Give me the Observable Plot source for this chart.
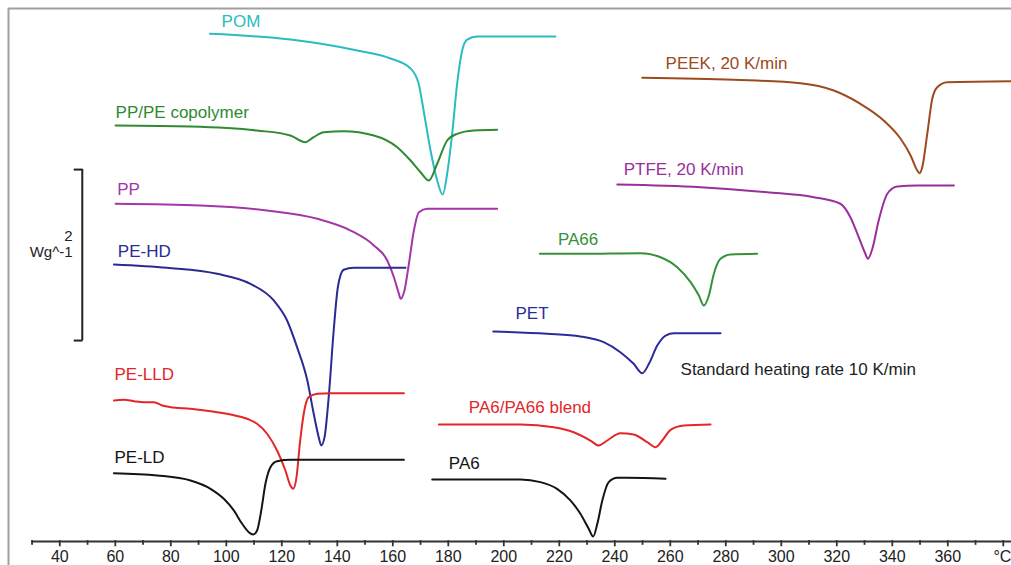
<!DOCTYPE html>
<html>
<head>
<meta charset="utf-8">
<script src="https://cdn.jsdelivr.net/npm/d3@7"></script>
<script src="https://cdn.jsdelivr.net/npm/@observablehq/plot@0.6"></script>
<style>
  html, body { margin: 0; padding: 0; background: #fff; }
  #chart svg { display: block; }
</style>
</head>
<body>
<div id="chart"></div>
<script>
// DSC melting curves: [temperature °C, heat flow W/g (offset)]
const POM = [[94.1,5.938],[123.1,5.871],[147.2,5.743],[159.2,5.649],[166.4,5.532],[169.3,5.357],[171.1,5.041],[173.6,4.573],[176.0,4.222],[178.0,4.058],[179.6,4.304],[181.4,4.772],[183.2,5.357],[185.0,5.743],[186.8,5.871],[190.4,5.906],[218.6,5.906]];
const PP_PE = [[60.1,4.865],[87.1,4.854],[111.1,4.807],[123.1,4.749],[128.5,4.670],[131.5,4.729],[135.1,4.787],[142.3,4.799],[153.2,4.749],[161.6,4.612],[166.4,4.456],[170.0,4.319],[173.0,4.222],[176.0,4.418],[179.6,4.690],[183.2,4.768],[189.2,4.807],[197.6,4.815]];
const PP = [[60.1,3.950],[90.7,3.930],[114.7,3.871],[132.8,3.774],[144.8,3.637],[153.2,3.462],[158.0,3.287],[160.4,3.091],[162.2,2.897],[162.8,2.839],[164.2,2.936],[165.8,3.248],[167.6,3.637],[169.4,3.851],[172.4,3.891],[197.6,3.891]];
const PE_HD = [[59.5,3.240],[78.7,3.201],[96.7,3.131],[108.7,3.014],[117.1,2.819],[121.9,2.585],[125.5,2.273],[129.2,1.883],[131.5,1.494],[133.3,1.220],[134.2,1.123],[135.4,1.220],[136.9,1.688],[138.7,2.468],[140.2,2.974],[142.3,3.178],[145.9,3.201],[164.6,3.201]];
const PE_LLD = [[59.5,1.649],[63.1,1.657],[66.7,1.641],[70.3,1.629],[73.9,1.629],[76.9,1.591],[79.9,1.571],[87.1,1.552],[94.3,1.524],[101.5,1.485],[107.5,1.435],[111.1,1.377],[114.7,1.260],[118.3,1.064],[121.3,0.830],[123.1,0.655],[124.1,0.616],[125.3,0.752],[126.5,1.143],[127.9,1.494],[129.7,1.688],[132.8,1.727],[137.6,1.735],[164.0,1.735]];
const PE_LD = [[59.5,0.799],[75.1,0.772],[87.1,0.713],[94.3,0.616],[99.1,0.499],[102.7,0.363],[105.7,0.207],[108.1,0.109],[109.7,0.082],[111.1,0.129],[112.6,0.363],[114.1,0.675],[115.9,0.869],[118.3,0.939],[123.1,0.956],[164.0,0.956]];
const PA6_PA66 = [[176.6,1.368],[206.0,1.368],[218.0,1.337],[225.2,1.278],[231.2,1.181],[234.2,1.123],[237.3,1.181],[242.0,1.267],[246.8,1.251],[251.7,1.161],[254.7,1.103],[257.1,1.181],[260.1,1.306],[264.9,1.357],[274.5,1.368]];
const PA6 = [[174.2,0.725],[206.0,0.725],[213.2,0.694],[219.2,0.616],[224.0,0.480],[227.6,0.324],[230.6,0.149],[232.2,0.058],[233.7,0.207],[235.5,0.480],[237.8,0.694],[240.9,0.745],[244.5,0.745],[258.3,0.733]];
const PA66 = [[213.0,3.365],[227.6,3.365],[249.3,3.372],[256.5,3.325],[262.5,3.208],[267.3,3.033],[270.3,2.877],[272.1,2.760],[273.9,2.877],[275.7,3.131],[278.1,3.306],[281.7,3.357],[291.3,3.365]];
const PET = [[196.2,2.456],[215.6,2.429],[227.6,2.398],[236.0,2.331],[242.0,2.214],[246.8,2.078],[249.9,1.968],[252.3,2.078],[255.3,2.292],[258.3,2.409],[261.3,2.436],[278.1,2.436]];
const PEEK = [[249.9,5.423],[282.9,5.400],[306.9,5.360],[318.9,5.275],[328.5,5.119],[336.9,4.924],[343.0,4.710],[346.6,4.515],[349.0,4.339],[349.8,4.308],[350.8,4.378],[352.6,4.768],[354.4,5.178],[356.2,5.313],[359.8,5.372],[383.0,5.384]];
const PTFE = [[240.9,4.175],[270.9,4.144],[294.9,4.085],[311.7,4.027],[321.3,3.950],[324.9,3.793],[327.9,3.559],[330.3,3.365],[331.2,3.306],[332.8,3.423],[335.1,3.754],[338.2,4.067],[341.8,4.152],[349.0,4.164],[362.2,4.164]];

// Series names and label anchor points [T, W/g]
const seriesNames = ["POM","PP/PE copolymer","PP","PE-HD","PE-LLD","PE-LD","PA6/PA66 blend","PA6","PA66","PET","PEEK, 20 K/min","PTFE, 20 K/min"];
const seriesData = [POM, PP_PE, PP, PE_HD, PE_LLD, PE_LD, PA6_PA66, PA6, PA66, PET, PEEK, PTFE];
const labelAnchors = [[98.3,6.012],[60.1,4.956],[60.7,4.047],[60.9,3.333],[59.7,1.883],[59.7,0.916],[187.4,1.505],[180.2,0.850],[219.5,3.462],[204.2,2.605],[258.3,5.529],[243.2,4.281]];
const noteText = "Standard heating rate 10 K/min";
const noteAnchor = [263.7, 1.942];

// Axis ticks
const tickValues = d3.range(30, 381, 10);
const tickLabelValues = [40,60,80,100,120,140,160,180,200,220,240,260,280,300,320,340,360];
const tickLabels = ["40","60","80","100","120","140","160","180","200","220","240","260","280","300","320","340","360"];
const unitLabel = "°C";

// Scale bar: 2 W/g
const scaleBar = {value: 2, from: 2.35, label: "2", unit: "Wg^-1"};

const colors = {
  "POM": "#2bbcc0",
  "PP/PE copolymer": "#2f8a31",
  "PP": "#a336a8",
  "PE-HD": "#2a2a92",
  "PE-LLD": "#e2262a",
  "PE-LD": "#141414",
  "PA6/PA66 blend": "#e2262a",
  "PA6": "#141414",
  "PA66": "#36913a",
  "PET": "#2b2b9a",
  "PEEK, 20 K/min": "#9e4a1e",
  "PTFE, 20 K/min": "#9a2e9c"
};

const font = "'Liberation Sans', Arial, Helvetica, sans-serif";
const fs = 17;

const marks = [];
// frame (top & left)
marks.push(Plot.ruleY([6.234], {stroke: "#a0a0a0", strokeWidth: 2}));
marks.push(Plot.ruleX([21.51], {stroke: "#a0a0a0", strokeWidth: 2}));

// curves
seriesData.forEach((data, i) => {
  marks.push(Plot.line(data, {x: d => d[0], y: d => d[1], stroke: colors[seriesNames[i]], strokeWidth: 2, curve: "monotone-x"}));
});

// labels
const labelRows = seriesNames.map((n, i) => ({name: n, x: labelAnchors[i][0], y: labelAnchors[i][1]}));
marks.push(Plot.text(labelRows, {x: "x", y: "y", text: "name", fill: d => colors[d.name], textAnchor: "start", lineAnchor: "bottom", fontSize: fs}));
marks.push(Plot.text([noteText], {x: noteAnchor[0], y: noteAnchor[1], text: d => d, fill: "#1e1e1e", textAnchor: "start", lineAnchor: "bottom", fontSize: fs}));

// x axis
marks.push(Plot.ruleY([0], {x1: 30, x2: 383, stroke: "#333", strokeWidth: 1.8}));
marks.push(Plot.ruleX(tickValues, {x: d => d, y1: 0.01, y2: d => (d % 20 === 0 ? -0.062 : -0.045), stroke: "#333", strokeWidth: 1.8}));
marks.push(Plot.text(tickLabelValues, {x: d => d, y: -0.235, text: (d, i) => tickLabels[i], fill: "#222", textAnchor: "middle", lineAnchor: "bottom", fontSize: 16}));
marks.push(Plot.text([unitLabel], {x: 382.9, y: -0.235, text: d => d, fill: "#222", textAnchor: "end", lineAnchor: "bottom", fontSize: 16}));

// scale bar
const sbTop = scaleBar.from + scaleBar.value;
marks.push(Plot.ruleX([48.1], {y1: scaleBar.from, y2: sbTop, stroke: "#222", strokeWidth: 2}));
marks.push(Plot.ruleY([scaleBar.from, sbTop], {x1: 45.2, x2: 48.4, stroke: "#222", strokeWidth: 2}));
marks.push(Plot.text([scaleBar.label], {x: 44.6, y: 3.51, text: d => d, fill: "#222", textAnchor: "end", lineAnchor: "bottom", fontSize: 15}));
marks.push(Plot.text([scaleBar.unit], {x: 44.6, y: 3.33, text: d => d, fill: "#222", textAnchor: "end", lineAnchor: "bottom", fontSize: 15}));

const chart = Plot.plot({
  width: 1011,
  height: 565,
  marginTop: 8,
  marginLeft: 8,
  marginRight: 0,
  marginBottom: 0,
  x: {domain: [21.51, 382.96], axis: null},
  y: {domain: [-0.281, 6.234], axis: null},
  style: {fontFamily: font, background: "#fff", overflow: "visible"},
  marks
});
document.getElementById("chart").appendChild(chart);
</script>
</body>
</html>
